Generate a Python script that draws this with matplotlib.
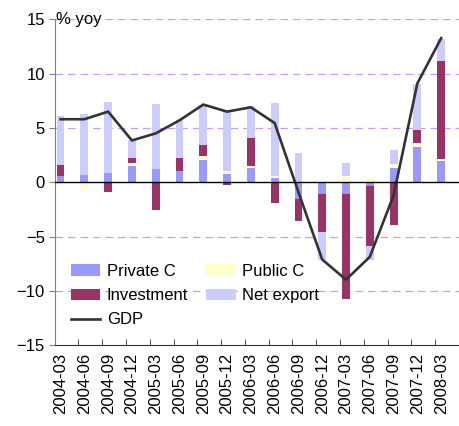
import matplotlib.pyplot as plt
import numpy as np

plt.rcParams['font.family'] = ['Liberation Sans', 'DejaVu Sans']

# データ (% yoy, 寄与度)
quarters = ['2004-03', '2004-06', '2004-09', '2004-12', '2005-03', '2005-06',
            '2005-09', '2005-12', '2006-03', '2006-06', '2006-09', '2006-12',
            '2007-03', '2007-06', '2007-09', '2007-12', '2008-03']
private_c = [0.58, 0.67, 0.86, 1.53, 1.22, 1.01, 2.05, 0.76, 1.31, 0.40,
             -1.56, -1.07, -1.10, -0.34, 1.31, 3.24, 1.99]
public_c = [-0.20, -0.43, 0.0, 0.21, 0.0, 0.0, 0.40, 0.24, 0.18, 0.15,
            0.0, 0.05, 0.55, 0.37, 0.37, 0.34, 0.15]
investment = [0.98, 0.0, -0.89, 0.46, -2.57, 1.19, 0.95, -0.24, 2.63, -1.90,
              -1.99, -3.49, -9.63, -5.53, -3.94, 1.19, 9.05]
net_export = [4.50, 5.57, 6.57, 1.68, 5.96, 3.49, 3.67, 5.69, 2.87, 6.76,
              2.72, -2.60, 1.19, -1.25, 1.25, 4.31, 1.99]
gdp = [5.8, 5.8, 6.5, 3.85, 4.5, 5.7, 7.15, 6.5, 6.9, 5.45,
       -0.9, -7.1, -8.95, -6.85, -1.2, 9.1, 13.25]

series = [('Private C', private_c, '#9999ff'),
          ('Public C', public_c, '#ffffcc'),
          ('Investment', investment, '#993366'),
          ('Net export', net_export, '#ccccff')]

fig = plt.figure(figsize=[4.59, 4.26], dpi=100)
ax = fig.add_axes([0.119, 0.189, 0.881, 0.766])

x = np.arange(len(quarters))
pos_base = np.zeros(len(quarters))
neg_base = np.zeros(len(quarters))
handles = {}
for name, vals, col in series:
    v = np.array(vals)
    bottom = np.where(v >= 0, pos_base, neg_base)
    b = ax.bar(x, v, width=0.33, bottom=bottom, color=col, label=name, zorder=3)
    handles[name] = b
    pos_base += np.where(v >= 0, v, 0)
    neg_base += np.where(v < 0, v, 0)

line, = ax.plot(x, gdp, color='#333333', linewidth=1.9, label='GDP', zorder=4)

# 軸の設定
ax.set_ylim(-15, 15)
ax.set_xlim(-0.25, 16.03)
ax.set_yticks([-15, -10, -5, 0, 5, 10, 15])
for yv in [15, 10, 5, -5, -10]:
    ax.axhline(yv, color='#cc99ff', linestyle=(0, (6, 4)), linewidth=0.9, zorder=1)
ax.axhline(0, color='black', linewidth=1.0, zorder=5)

ax.set_xticks(x)
ax.set_xticklabels(quarters, rotation=90, fontsize=12)
ax.tick_params(axis='x', length=0, pad=5)
ax.set_xticks(x - 0.25 + 1, minor=True)
ax.tick_params(axis='x', which='minor', direction='in', length=4, color='#333333')
ax.tick_params(axis='y', direction='out', length=4, color='#808080', labelsize=12, pad=3)

ax.spines['top'].set_visible(False)
ax.spines['right'].set_visible(False)
ax.spines['left'].set_color('#808080')
ax.spines['bottom'].set_color('#333333')

ax.text(-0.18, 15.7, '% yoy', fontsize=12, va='top', ha='left')

leg_handles = [handles['Private C'], handles['Investment'], line,
               handles['Public C'], handles['Net export']]
ax.legend(handles=leg_handles, loc='upper left', bbox_to_anchor=(0.04, 0.25),
          ncol=2, frameon=False, fontsize=12, handlelength=1.75, handleheight=0.65,
          handletextpad=0.4, columnspacing=1.1, labelspacing=0.55, borderaxespad=0,
          borderpad=0)

plt.savefig('out.png', dpi=100)
plt.close()
